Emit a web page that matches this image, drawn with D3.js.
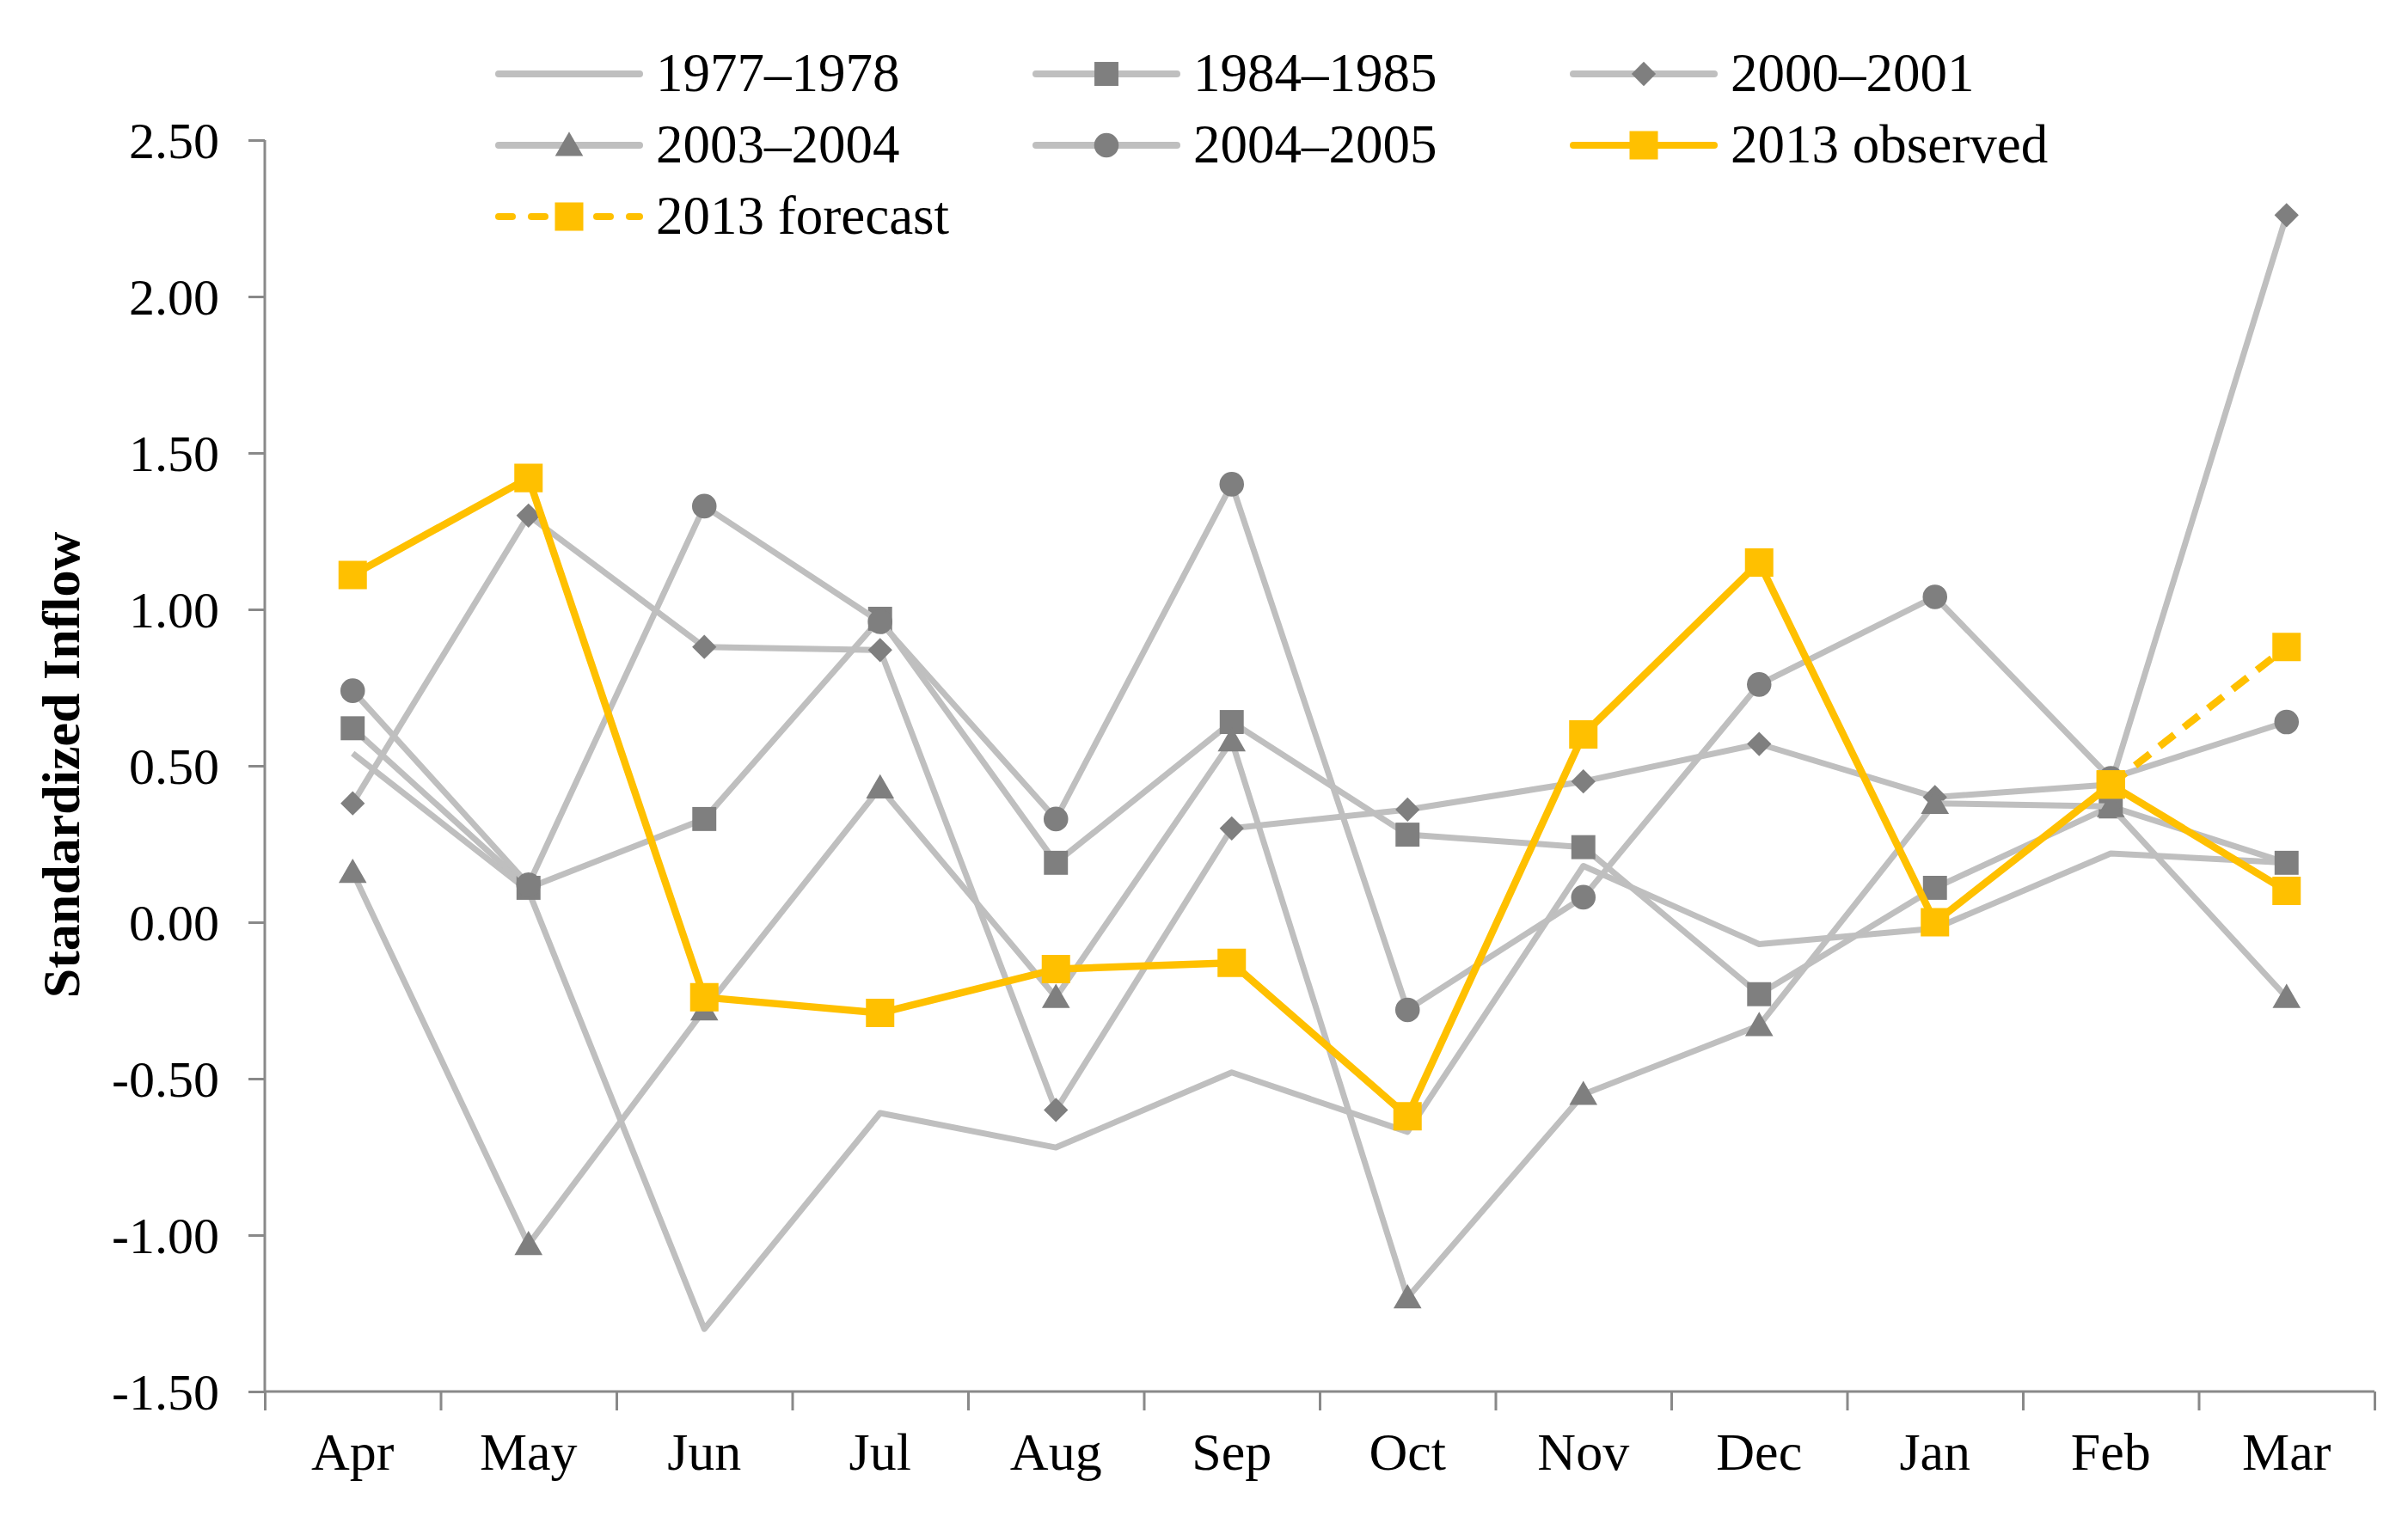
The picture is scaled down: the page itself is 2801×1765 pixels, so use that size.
<!DOCTYPE html>
<html>
<head>
<meta charset="utf-8">
<script src="https://cdn.jsdelivr.net/npm/d3@7"></script>
<style>
  body { margin: 0; background: #fff; }
  text { font-family: "Liberation Serif", "Times New Roman", serif; fill: #000; }
</style>
</head>
<body>
<svg id="chart" width="2801" height="1765"></svg>
<script>
// months of the water year
var months = ['Apr', 'May', 'Jun', 'Jul', 'Aug', 'Sep', 'Oct', 'Nov', 'Dec', 'Jan', 'Feb', 'Mar'];
var yTicks = [-1.5, -1.0, -0.5, 0.0, 0.5, 1.0, 1.5, 2.0, 2.5];

// standardized inflow
var y1977 = [0.54, 0.10, -1.30, -0.61, -0.72, -0.48, -0.67, 0.18, -0.07, -0.02, 0.22, 0.19];
var y1984 = [0.62, 0.11, 0.33, 0.97, 0.19, 0.64, 0.28, 0.24, -0.23, 0.11, 0.37, 0.19];
var y2000 = [0.38, 1.30, 0.88, 0.87, -0.60, 0.30, 0.36, 0.45, 0.57, 0.40, 0.44, 2.26];
var y2003 = [0.16, -1.03, -0.28, 0.43, -0.24, 0.58, -1.20, -0.55, -0.33, 0.38, 0.37, -0.24];
var y2004 = [0.74, 0.12, 1.33, 0.96, 0.33, 1.40, -0.28, 0.08, 0.76, 1.04, 0.46, 0.64];
var obs2013 = [1.11, 1.42, -0.24, -0.29, -0.15, -0.13, -0.62, 0.60, 1.15, 0.00, 0.44, 0.10];
var fc2013 = [null, null, null, null, null, null, null, null, null, null, 0.44, 0.88];

var grayLine = '#bfbfbf', grayMark = '#7f7f7f', gold = '#ffc000';

var series = [
  {name: '1977\u20131978', values: y1977, color: grayLine, mark: null},
  {name: '1984\u20131985', values: y1984, color: grayLine, mark: 'square'},
  {name: '2000\u20132001', values: y2000, color: grayLine, mark: 'diamond'},
  {name: '2003\u20132004', values: y2003, color: grayLine, mark: 'triangle'},
  {name: '2004\u20132005', values: y2004, color: grayLine, mark: 'circle'},
  {name: '2013 forecast', values: fc2013, color: gold, mark: 'gold', dash: true},
  {name: '2013 observed', values: obs2013, color: gold, mark: 'gold'}
];
var legendOrder = ['1977\u20131978', '1984\u20131985', '2000\u20132001',
  '2003\u20132004', '2004\u20132005', '2013 observed', '2013 forecast'];

var svg = d3.select('#chart');
svg.append('rect').attr('width', 2801).attr('height', 1765).attr('fill', '#fff');

var plotL = 308, plotR = 2762, plotT = 163, plotB = 1619;

var x = d3.scaleBand().domain(months).range([plotL, plotR]);
var xEdge = d3.scaleLinear().domain([0, months.length]).range([plotL, plotR]);
var y = d3.scaleLinear().domain([-1.5, 2.5]).range([plotB, plotT]);

// y axis
var yAxis = svg.append('g')
  .attr('transform', 'translate(' + plotL + ',0)')
  .call(d3.axisLeft(y).tickValues(yTicks).tickSize(19).tickPadding(34)
    .tickFormat(function(d) { return d.toFixed(2); }));
yAxis.selectAll('text').style('font-size', '60px').attr('dy', '0.34em');

// x axis: ticks between categories
var xAxis = svg.append('g')
  .attr('transform', 'translate(0,' + plotB + ')')
  .call(d3.axisBottom(xEdge).tickValues(d3.range(0, months.length + 1)).tickSize(22)
    .tickFormat(''));
svg.append('g')
  .attr('transform', 'translate(0,' + plotB + ')')
  .call(d3.axisBottom(x).tickSize(0).tickPadding(72))
  .call(function(g) { g.select('.domain').remove(); })
  .selectAll('text').style('font-size', '62px').attr('dy', '0.3em');

svg.selectAll('.domain, .tick line').attr('stroke', '#898989').attr('stroke-width', 3);
yAxis.select('.domain').attr('d', 'M0,' + plotT + 'V' + plotB);
xAxis.select('.domain').attr('d', 'M' + plotL + ',0H' + plotR);

// axis title
svg.append('text')
  .attr('transform', 'translate(92,890) rotate(-90)')
  .attr('text-anchor', 'middle')
  .style('font-size', '62px')
  .style('font-weight', 'bold')
  .text('Standardized Inflow');

function cx(i) { return x(months[i]) + x.bandwidth() / 2; }

function drawMark(g, kind, px, py) {
  if (!kind) return;
  if (kind === 'square') {
    g.append('path').attr('d', d3.symbol(d3.symbolSquare, 780)())
      .attr('transform', 'translate(' + px + ',' + py + ')').attr('fill', grayMark);
  } else if (kind === 'diamond') {
    g.append('path').attr('d', d3.symbol(d3.symbolSquare, 400)())
      .attr('transform', 'translate(' + px + ',' + py + ') rotate(45)').attr('fill', grayMark);
  } else if (kind === 'triangle') {
    g.append('path').attr('d', d3.symbol(d3.symbolTriangle, 460)())
      .attr('transform', 'translate(' + px + ',' + (py + 3) + ')').attr('fill', grayMark);
  } else if (kind === 'circle') {
    g.append('path').attr('d', d3.symbol(d3.symbolCircle, 640)())
      .attr('transform', 'translate(' + px + ',' + py + ')').attr('fill', grayMark);
  } else if (kind === 'gold') {
    g.append('path').attr('d', d3.symbol(d3.symbolSquare, 1090)())
      .attr('transform', 'translate(' + px + ',' + py + ')').attr('fill', gold);
  }
}

var line = d3.line()
  .defined(function(d) { return d != null; })
  .x(function(d, i) { return cx(i); })
  .y(function(d) { return y(d); });

var plot = svg.append('g');
series.forEach(function(s) {
  var g = plot.append('g');
  g.append('path')
    .attr('d', line(s.values))
    .attr('fill', 'none')
    .attr('stroke', s.color)
    .attr('stroke-width', s.color === gold ? 8.5 : 7)
    .attr('stroke-linejoin', 'round')
    .attr('stroke-dasharray', s.dash ? '22,14' : null);
  s.values.forEach(function(v, i) {
    if (v == null) return;
    drawMark(g, s.mark, cx(i), y(v));
  });
});

// legend, three columns
var legend = svg.append('g');
legendOrder.forEach(function(name, k) {
  var s = series.filter(function(d) { return d.name === name; })[0];
  var col = k % 3, row = Math.floor(k / 3);
  var lx = 580 + col * 625, ly = 86 + row * 83;
  var g = legend.append('g');
  g.append('line')
    .attr('x1', lx).attr('x2', lx + 164).attr('y1', ly).attr('y2', ly)
    .attr('stroke', s.color)
    .attr('stroke-width', 8)
    .attr('stroke-linecap', 'round')
    .attr('stroke-dasharray', s.dash ? '16,22' : null);
  drawMark(g, s.mark, lx + 82, ly);
  g.append('text')
    .attr('x', lx + 183).attr('y', ly + 20)
    .style('font-size', '63px')
    .text(name);
});
</script>
</body>
</html>
